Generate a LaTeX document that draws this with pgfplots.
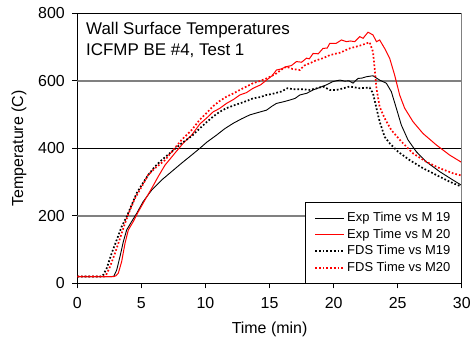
\documentclass[border=0pt]{standalone}
\usepackage{fontspec}
\setmainfont{Liberation Sans}
\usepackage{pgfplots}
\pgfplotsset{compat=1.18}
\usepackage{pgfplotstable}

\pgfplotstableread{
t T
0 20
2.7 20
2.85 21
3.07 39
3.33 79
3.59 123
3.85 158
4.24 183
4.63 207
5.14 242
5.8 276
6.58 306
7.36 331
8.14 356
8.92 380
9.56 400
10.1 418
10.86 439
11.5 458
12.16 474
12.8 487
13.46 499
14.1 506
14.76 513
15.2 525
15.54 533
16.1 538
16.58 543
17.0 548
17.36 558
17.9 563
18.4 573
18.9 580
19.44 588
19.9 597
20.2 600
20.5 602
20.87 599
21.2 600
21.51 593
21.9 607
22.2 608
22.55 612
23.07 615
23.35 608
23.59 602
24.11 593
24.5 568
24.89 519
25.28 469
25.8 425
26.45 390
27.23 360
28.27 331
29.31 306
30 290
}\expm

\pgfplotstableread{
t T
0 20
2.85 20
3.0 22
3.2 30
3.46 64
3.72 118
3.98 158
4.37 183
4.76 212
5.28 247
5.8 281
6.31 316
6.84 350
7.6 385
8.26 415
8.92 439
9.56 472
10.1 490
10.6 508
11.1 518
11.64 533
12.2 545
12.68 558
13.2 565
13.72 578
14.3 588
14.76 602
15.2 615
15.54 632
15.9 635
16.32 642
16.7 645
17.1 657
17.5 655
17.88 667
18.1 665
18.4 681
18.8 680
19.17 696
19.5 697
19.7 711
20.2 711
20.61 721
21.0 716
21.3 718
21.64 716
22.04 731
22.3 726
22.68 744
23.07 736
23.34 716
23.59 721
23.98 696
24.37 667
24.76 617
25.15 558
25.54 519
26.19 479
26.97 444
28.01 410
29.05 380
30 358
}\expn

\pgfplotstableread{
t T
0 20
1.9 20
2.03 25
2.29 44
2.68 89
3.07 128
3.46 168
3.85 197
4.24 232
4.63 267
5.02 291
5.53 321
6.06 346
6.58 365
7.36 390
8.14 415
8.92 436
9.56 459
10.1 478
10.6 494
11.1 508
11.64 519
12.2 527
12.68 533
13.2 540
13.72 548
14.3 552
14.76 558
15.3 562
15.9 568
16.4 578
16.84 575
17.5 575
18.14 573
18.7 578
19.17 583
19.7 573
20.22 573
20.48 575
21.25 583
22.03 578
22.81 580
23.07 563
23.34 519
23.59 479
23.98 434
24.37 415
25.02 390
25.93 365
26.97 341
28.01 321
29.05 301
30 286
}\fdsm

\pgfplotstableread{
t T
0 20
2.1 20
2.25 25
2.55 49
2.94 89
3.33 133
3.72 178
4.11 217
4.5 252
5.02 286
5.53 321
6.06 341
6.84 365
7.6 400
8.14 425
8.92 454
9.56 485
10.1 505
10.6 525
11.1 540
11.64 553
12.2 563
12.68 573
13.2 583
13.72 593
14.3 600
14.76 607
15.2 615
15.54 622
16.0 635
16.32 642
16.8 635
17.36 632
17.7 645
18.14 652
18.6 660
19.17 667
19.7 676
20.22 681
20.48 683
21.25 696
22.03 704
22.81 714
23.07 686
23.2 637
23.34 578
23.59 523
23.98 489
24.5 454
25.28 420
26.19 385
27.23 360
28.27 341
29.31 326
30 319
}\fdsn

\definecolor{gridgray}{RGB}{128,128,128}

\begin{document}
\begin{tikzpicture}
\useasboundingbox (0,0) rectangle (472bp,346bp);
\begin{axis}[
  at={(77.3bp,62.7bp)}, anchor=south west,
  scale only axis, width=384.5bp, height=270bp,
  xmin=0, xmax=30, ymin=0, ymax=800,
  xtick={0,5,...,30}, ytick={0,200,...,800},
  tick align=outside, xtick pos=left, ytick pos=left,
  major tick length=5bp,
  tick style={black, line width=0.8bp},
  axis line style={black, line width=0.8bp},
  /pgf/number format/assume math mode=true,
  ticklabel style={font=\fontsize{16}{19}\selectfont},
  xticklabel style={yshift=-6bp},
  yticklabel style={xshift=-4bp},
  xlabel={Time (min)}, ylabel={Temperature (C)},
  label style={font=\fontsize{16}{19}\selectfont},
  xlabel style={at={(axis description cs:0.5,-0.17)}, anchor=center},
  ylabel style={at={(axis description cs:-0.1516,0.5)}, anchor=center},
  legend cell align=left,
  legend style={at={(1,0)}, anchor=south east, draw=black, line width=0.8bp,
    font=\fontsize{13}{15}\selectfont, inner xsep=9bp, inner ysep=7bp,
    row sep=0bp,
    nodes={inner sep=2bp, text height=10bp, text depth=2.5bp, text=black}},
  legend image code/.code={\draw[#1] (0bp,0bp) -- (29bp,0bp);},
]
\draw[gridgray, line width=2bp] (axis cs:0,200) -- (axis cs:30,200);
\draw[gridgray, line width=2bp] (axis cs:0,600) -- (axis cs:30,600);
\draw[black, line width=0.8bp] (axis cs:0,400) -- (axis cs:30,400);
\addplot[color=black, line width=0.9bp] table[x=t,y=T] {\expm};
\addlegendentry{Exp Time vs M 19}
\addplot[color=red, line width=1bp] table[x=t,y=T] {\expn};
\addlegendentry{Exp Time vs M 20}
\addplot[color=black, line width=1.7bp, dash pattern=on 1.7bp off 2bp] table[x=t,y=T] {\fdsm};
\addlegendentry{FDS Time vs M19}
\addplot[color=red, line width=1.7bp, dash pattern=on 1.7bp off 2bp] table[x=t,y=T] {\fdsn};
\addlegendentry{FDS Time vs M20}
\draw[gridgray, line width=1.5bp] (rel axis cs:1,0) -- (rel axis cs:1,1);
\node[anchor=base west, font=\fontsize{17}{20}\selectfont, inner sep=0pt] at (axis cs:0.68,736) {Wall Surface Temperatures};
\node[anchor=base west, font=\fontsize{17}{20}\selectfont, inner sep=0pt] at (axis cs:0.68,676) {ICFMP BE \#4, Test 1};
\end{axis}
\end{tikzpicture}
\end{document}
